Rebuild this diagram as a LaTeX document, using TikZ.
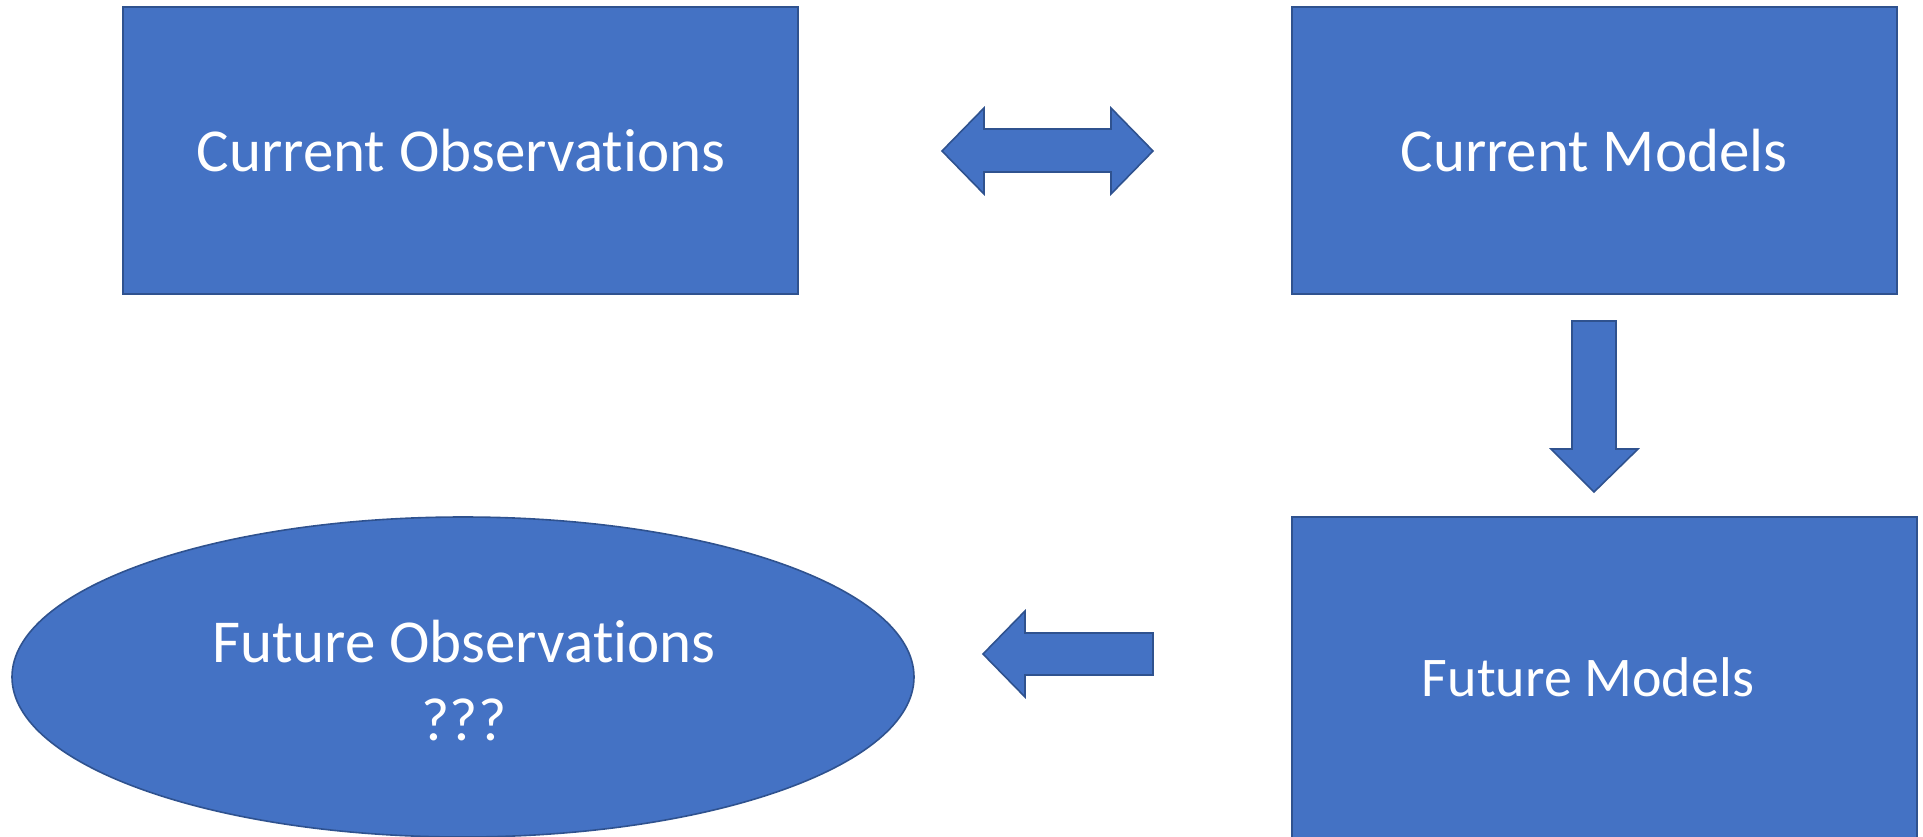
\documentclass[tikz,border=0pt]{standalone}
\usepackage{fontspec}
\setmainfont{Carlito}[Ligatures=NoCommon]
\usetikzlibrary{shapes.geometric}
\definecolor{boxfill}{HTML}{4472C4}
\definecolor{boxline}{HTML}{2F528F}
% keep "t" and "i" as separate glyphs
\newcommand{\Obs}{Observat\kern0pt ions}
\begin{document}
\begin{tikzpicture}[x=1pt,y=-1pt,
  shapebox/.style={fill=boxfill,draw=boxline,line width=1.6pt},
  blockarrow/.style={fill=boxfill,draw=boxline,line width=1.6pt,line join=miter},
  label/.style={text=white,font=\fontsize{61}{78}\selectfont,align=center,inner sep=0pt}]
\useasboundingbox (0,0) rectangle (1923,836);
\begin{scope}
\clip (0,0) rectangle (1923,836);
% boxes
\draw[shapebox] (123,7) rectangle (798,294);
\draw[shapebox] (1292,7) rectangle (1897,294);
\draw[shapebox] (1292,517) rectangle (1917,900);
\draw[shapebox] (463,677) ellipse [x radius=451,y radius=160];
% double arrow between the current boxes
\draw[blockarrow] (942,151) -- (984,108) -- (984,129) -- (1111,129) -- (1111,108)
  -- (1153,151) -- (1111,194) -- (1111,172) -- (984,172) -- (984,194) -- cycle;
% down arrow
\draw[blockarrow] (1572,321) -- (1616,321) -- (1616,449) -- (1638,449) -- (1594,492)
  -- (1551,449) -- (1572,449) -- cycle;
% left arrow
\draw[blockarrow] (983,654) -- (1025,611) -- (1025,633) -- (1153,633) -- (1153,675)
  -- (1025,675) -- (1025,697) -- cycle;
\end{scope}
% labels
\node[label] (co) at (461,151) {Current \Obs};
\node[label] (cm) at (1594,151) {Current Models};
\node[label,font=\fontsize{56}{70}\selectfont] (fm) at (1588,677) {Future Models};
\node[label] (fo) at (464,681) {Future \Obs\\???};
\end{tikzpicture}
\end{document}
